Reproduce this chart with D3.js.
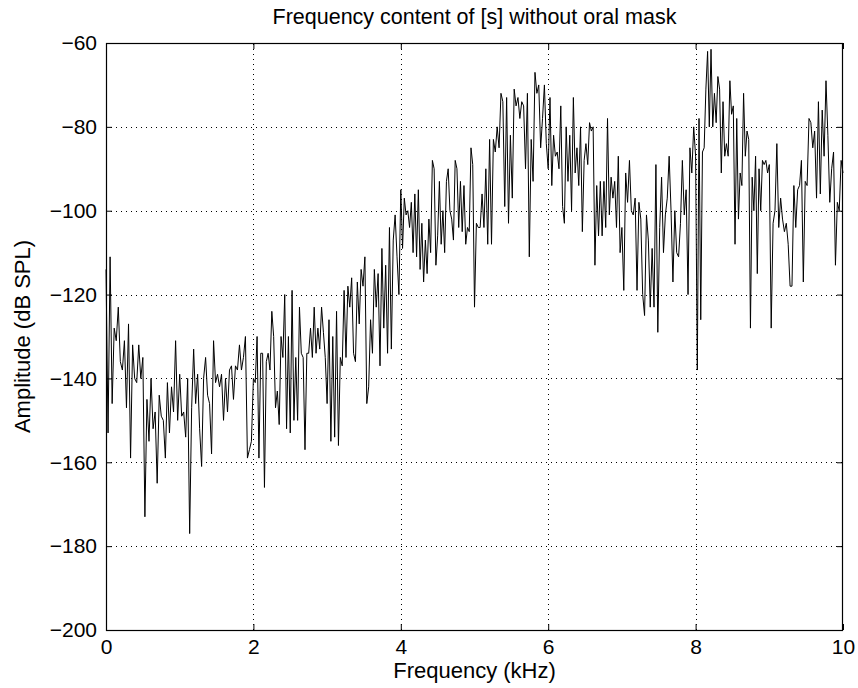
<!DOCTYPE html>
<html><head><meta charset="utf-8">
<script src="https://cdn.jsdelivr.net/npm/d3@7"></script>
<style>
body{margin:0;background:#fff;}
text{font-family:"Liberation Sans",Arial,Helvetica,sans-serif;fill:#000;}
</style>
</head><body>
<svg id="chart" width="858" height="688"></svg>
<script>
// ---- text ----
const titleText = "Frequency content of [s] without oral mask";
const xLabelText = "Frequency (kHz)";
const yLabelText = "Amplitude (dB SPL)";
// ---- ticks ----
const xTickValues = [0, 2, 4, 6, 8, 10];
const yTickValues = [-200, -180, -160, -140, -120, -100, -80, -60];
// ---- amplitude values (dB SPL), one array per 1 kHz band ----
const amp0to1kHz = [-114,-153,-111,-146,-128,-131,-123,-136,-138,-131,-147,-127,-159,-132,-140,-141,-132,-140,-135,-173,-145,-155,-140,-152,-148,-165,-144,-149,-150,-159,-141,-153,-142,-148,-131,-150];
const amp1to2kHz = [-139,-149,-148,-154,-140,-177,-147,-133,-146,-139,-152,-161,-140,-135,-144,-146,-158,-131,-141,-139,-142,-139,-150,-140,-148,-138,-137,-145,-137,-138,-132,-138,-135,-130,-159,-157,-155];
const amp2to3kHz = [-140,-141,-130,-159,-134,-134,-166,-136,-134,-138,-124,-130,-147,-143,-151,-130,-135,-120,-152,-130,-153,-119,-150,-135,-150,-123,-134,-135,-157,-134,-134,-128,-135,-123,-134,-128,-133,-123,-129,-135];
const amp3to4kHz = [-146,-126,-155,-130,-154,-124,-156,-135,-137,-119,-135,-118,-123,-116,-134,-136,-117,-127,-114,-118,-111,-146,-142,-126,-134,-114,-123,-115,-137,-109,-128,-113,-134,-104,-133,-107,-101,-111,-120];
const amp4to5kHz = [-95,-109,-97,-101,-100,-104,-98,-110,-96,-111,-95,-114,-103,-117,-107,-115,-102,-110,-88,-90,-113,-106,-93,-108,-100,-110,-93,-90,-100,-102,-107,-88,-90,-104,-93,-105,-94,-108,-104,-105,-85,-89];
const amp5to6kHz = [-123,-103,-104,-104,-96,-104,-90,-108,-83,-108,-83,-86,-80,-85,-72,-74,-99,-73,-103,-82,-97,-71,-75,-73,-78,-74,-75,-90,-72,-111,-83,-93,-67,-72,-70,-85,-78,-70,-84];
const amp6to7kHz = [-90,-73,-94,-82,-87,-86,-90,-75,-99,-103,-80,-93,-82,-100,-73,-91,-85,-94,-80,-105,-88,-84,-89,-79,-81,-80,-113,-94,-106,-93,-106,-93,-104,-78,-101,-92,-97,-93,-104,-87,-110];
const amp7to8kHz = [-104,-119,-91,-98,-88,-100,-101,-97,-119,-98,-102,-120,-125,-101,-107,-123,-109,-123,-89,-129,-104,-92,-110,-101,-97,-87,-100,-117,-100,-110,-111,-103,-88,-101,-95,-120,-85,-91,-80];
const amp8to9kHz = [-87,-138,-78,-126,-86,-85,-71,-62,-80,-61.5,-80,-72,-79,-68,-71,-91,-74,-87,-84,-87,-69,-77,-75,-108,-78,-102,-91,-94,-72,-87,-81,-83,-128,-92,-100,-87,-115,-90,-100,-88,-89,-88,-91];
const amp9to10kHz = [-89,-128,-103,-100,-84,-104,-97,-102,-105,-103,-108,-118,-118,-94,-104,-95,-94,-88,-117,-93,-94,-78,-79,-85,-81,-97,-74,-96,-76,-87,-69,-82,-98,-90,-86,-113,-98,-100,-88,-91];

const bands = [amp0to1kHz, amp1to2kHz, amp2to3kHz, amp3to4kHz, amp4to5kHz,
               amp5to6kHz, amp6to7kHz, amp7to8kHz, amp8to9kHz, amp9to10kHz];

// build (frequency, amplitude) pairs: each band spread evenly over its 1 kHz
const spectrum = [];
bands.forEach((vals, k) => {
  const last = k === bands.length - 1;
  const n = last ? vals.length - 1 : vals.length;
  vals.forEach((v, i) => spectrum.push({f: k + i / n, a: v}));
});

// ---- layout ----
const W = 858, H = 688;
const mLeft = 106, mRight = 843, mTop = 43, mBottom = 630;
const svg = d3.select("#chart");
svg.append("rect").attr("width", W).attr("height", H).attr("fill", "#fff");

const x = d3.scaleLinear().domain([0, 10]).range([mLeft, mRight]);
const y = d3.scaleLinear().domain([-200, -60]).range([mBottom, mTop]);

const tickFont = 21;
const labelFont = 22;
const titleFont = 21.5;

// grid (dotted)
const grid = svg.append("g").attr("stroke", "#000").attr("stroke-width", 1)
  .attr("stroke-dasharray", "1,4").attr("shape-rendering", "crispEdges");
grid.selectAll("line.gx").data(xTickValues.slice(1, -1)).join("line")
  .attr("class", "gx")
  .attr("x1", d => Math.round(x(d)) + 0.5).attr("x2", d => Math.round(x(d)) + 0.5)
  .attr("y1", mBottom).attr("y2", mTop);
grid.selectAll("line.gy").data(yTickValues.slice(1, -1)).join("line")
  .attr("class", "gy")
  .attr("y1", d => Math.round(y(d)) + 0.5).attr("y2", d => Math.round(y(d)) + 0.5)
  .attr("x1", mLeft).attr("x2", mRight);

// data line
const line = d3.line().x(d => x(d.f)).y(d => y(d.a));
svg.append("path").datum(spectrum)
  .attr("fill", "none").attr("stroke", "#000").attr("stroke-width", 1)
  .attr("stroke-linejoin", "round")
  .attr("d", line);

// axes (ticks inside, like MATLAB) using d3 axes
const tickLen = 6;
const axB = svg.append("g").attr("transform", `translate(0,${mBottom})`)
  .call(d3.axisBottom(x).tickValues(xTickValues).tickSizeInner(-tickLen).tickSizeOuter(0).tickPadding(9).tickFormat(d3.format("d")));
const axT = svg.append("g").attr("transform", `translate(0,${mTop})`)
  .call(d3.axisTop(x).tickValues(xTickValues).tickSizeInner(-tickLen).tickSizeOuter(0).tickFormat(""));
const axL = svg.append("g").attr("transform", `translate(${mLeft},0)`)
  .call(d3.axisLeft(y).tickValues(yTickValues).tickSizeInner(-tickLen).tickSizeOuter(0).tickPadding(9).tickFormat(d3.format("d")));
const axR = svg.append("g").attr("transform", `translate(${mRight},0)`)
  .call(d3.axisRight(y).tickValues(yTickValues).tickSizeInner(-tickLen).tickSizeOuter(0).tickFormat(""));
[axB, axT, axL, axR].forEach(g => {
  g.select(".domain").remove();
  g.selectAll("line").attr("stroke", "#000");
  g.selectAll("text").attr("font-size", tickFont).attr("font-family", null).attr("fill", "#000");
});
axB.selectAll("text").attr("dy", "0.71em");

// box
svg.append("rect").attr("x", mLeft + 0.5).attr("y", mTop + 0.5)
  .attr("width", mRight - mLeft - 1).attr("height", mBottom - mTop)
  .attr("fill", "none").attr("stroke", "#000").attr("stroke-width", 1.2);

// title & labels
svg.append("text").attr("x", (mLeft + mRight) / 2).attr("y", 24)
  .attr("text-anchor", "middle").attr("font-size", titleFont).text(titleText);
svg.append("text").attr("x", (mLeft + mRight) / 2).attr("y", 678)
  .attr("text-anchor", "middle").attr("font-size", labelFont).text(xLabelText);
svg.append("text").attr("transform", `translate(30,${(mTop + mBottom) / 2}) rotate(-90)`)
  .attr("text-anchor", "middle").attr("font-size", labelFont).text(yLabelText);
</script>
</body></html>
